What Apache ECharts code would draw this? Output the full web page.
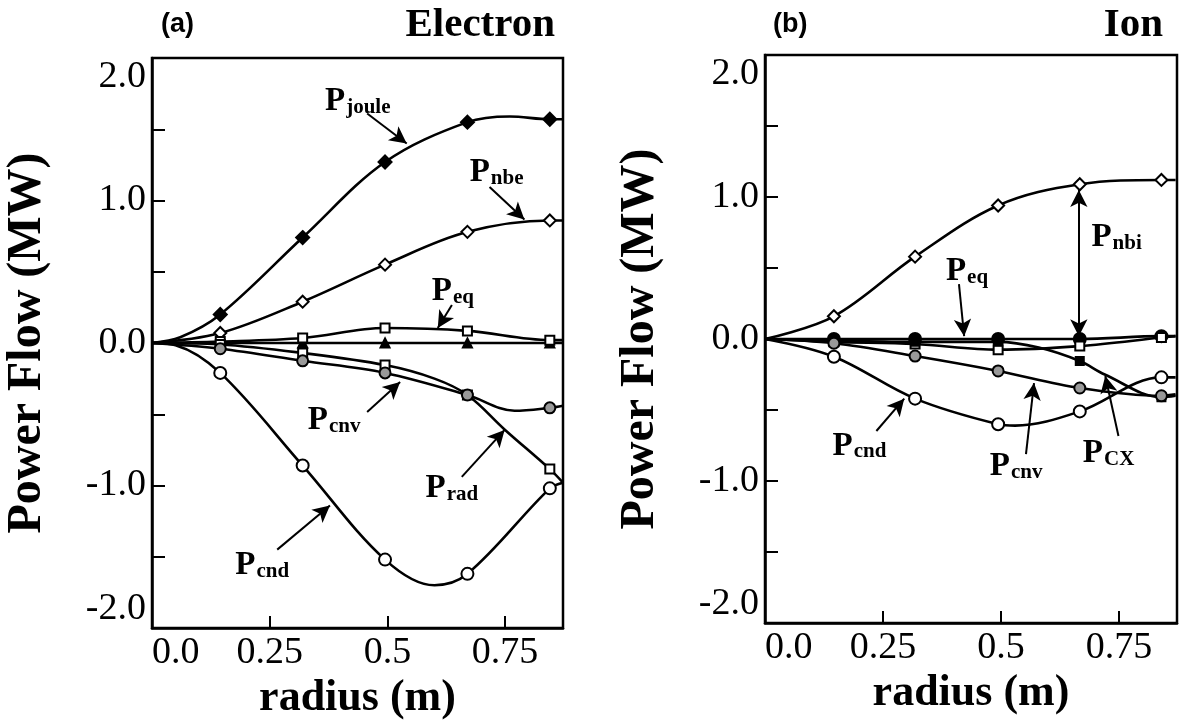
<!DOCTYPE html>
<html><head><meta charset="utf-8">
<script src="https://cdn.jsdelivr.net/npm/echarts@6/dist/echarts.min.js"></script>
<style>html,body{margin:0;padding:0;background:#fff}#c{width:1181px;height:728px}</style>
</head><body><div id="c"></div>
<script>
// ---------- DATA ----------
const yTicks = [-2, -1, 0, 1, 2];
const xTicks = [0, 0.25, 0.5, 0.75];
const xMax = 0.873;

// marker radii
const radiusE = [0.145, 0.32, 0.495, 0.67, 0.845];
const radiusI = [0.146, 0.318, 0.494, 0.667, 0.84];

// (a) Electron: marker values
const eJouleMk = [0.20, 0.74, 1.27, 1.55, 1.57];
const eNbeMk   = [0.07, 0.29, 0.55, 0.78, 0.86];
const eEqMk    = [0.01, 0.035, 0.105, 0.085, 0.02];
const eZeroMk  = [0.0, 0.0, 0.0, 0.0, 0.0];
const eRadMk   = [-0.01, -0.07, -0.155, -0.365, -0.885];
const eCnvMk   = [-0.04, -0.125, -0.21, -0.365, -0.455];
const eCndMk   = [-0.21, -0.86, -1.52, -1.62, -1.02];

// (a) Electron: curve traces [radius, MW]
const eJouleCurve = [[0,0],[0.06,0.04],[0.145,0.20],[0.32,0.74],[0.495,1.27],[0.67,1.55],[0.76,1.59],[0.845,1.57],[0.873,1.57]];
const eNbeCurve   = [[0,0],[0.145,0.07],[0.32,0.29],[0.495,0.55],[0.67,0.78],[0.845,0.86],[0.873,0.86]];
const eEqCurve    = [[0,0],[0.145,0.01],[0.32,0.035],[0.495,0.105],[0.67,0.085],[0.845,0.02],[0.873,0.02]];
const eZeroCurve  = [[0,0],[0.873,0]];
const eRadCurve   = [[0,0],[0.145,-0.01],[0.32,-0.07],[0.495,-0.155],[0.6,-0.25],[0.67,-0.365],[0.75,-0.61],[0.845,-0.885],[0.873,-0.98]];
const eCnvCurve   = [[0,0],[0.145,-0.04],[0.32,-0.125],[0.495,-0.21],[0.67,-0.365],[0.77,-0.475],[0.845,-0.455],[0.873,-0.44]];
const eCndCurve   = [[0,0],[0.05,-0.015],[0.145,-0.21],[0.32,-0.86],[0.495,-1.52],[0.6,-1.70],[0.67,-1.62],[0.845,-1.02],[0.873,-0.98]];

// (b) Ion: marker values
const iNbiMk  = [0.16, 0.58, 0.94, 1.09, 1.12];
const iZeroMk = [0.0, 0.0, 0.0, 0.0, 0.02];
const iEqMk   = [-0.02, -0.035, -0.075, -0.05, 0.01];
const iCxMk   = [-0.01, -0.02, -0.02, -0.155, -0.41];
const iCnvMk  = [-0.03, -0.12, -0.225, -0.345, -0.40];
const iCndMk  = [-0.125, -0.42, -0.60, -0.51, -0.27];

// (b) Ion: curve traces
const iNbiCurve  = [[0,0],[0.146,0.16],[0.318,0.58],[0.494,0.94],[0.667,1.09],[0.84,1.12],[0.87,1.12]];
const iZeroCurve = [[0,0],[0.667,0.0],[0.84,0.02],[0.87,0.02]];
const iEqCurve   = [[0,0],[0.146,-0.02],[0.318,-0.035],[0.494,-0.075],[0.667,-0.05],[0.84,0.01],[0.87,0.02]];
const iCxCurve   = [[0,0],[0.146,-0.01],[0.318,-0.02],[0.494,-0.02],[0.58,-0.06],[0.667,-0.155],[0.72,-0.25],[0.84,-0.41],[0.87,-0.40]];
const iCnvCurve  = [[0,0],[0.146,-0.03],[0.318,-0.12],[0.494,-0.225],[0.667,-0.345],[0.84,-0.40],[0.87,-0.39]];
const iCndCurve  = [[0,0],[0.146,-0.125],[0.318,-0.42],[0.494,-0.60],[0.53,-0.61],[0.667,-0.51],[0.84,-0.27],[0.87,-0.27]];

// annotation labels: subscript text and position [radius, MW]
const eLabelSubs = ['joule', 'nbe', 'eq', 'cnv', 'rad', 'cnd'];
const eLabelPos  = [[0.437,1.70],[0.732,1.20],[0.639,0.365],[0.387,-0.54],[0.637,-1.02],[0.234,-1.56]];
const eArrows = [
  [[0.457,1.61],[0.541,1.40]],
  [[0.717,1.095],[0.791,0.867]],
  [[0.637,0.267],[0.607,0.105]],
  [[0.457,-0.484],[0.527,-0.274]],
  [[0.658,-0.94],[0.749,-0.61]],
  [[0.266,-1.45],[0.378,-1.14]]
];
const iLabelSubs = ['nbi', 'eq', 'cnd', 'cnv', 'CX'];
const iLabelPos  = [[0.745,0.72],[0.428,0.48],[0.20,-0.75],[0.532,-0.894],[0.728,-0.80]];
const iArrows = [
  [[0.411,0.387],[0.422,0.02]],
  [[0.236,-0.648],[0.295,-0.42]],
  [[0.553,-0.81],[0.57,-0.31]],
  [[0.749,-0.683],[0.721,-0.26]]
];
const iDoubleArrow = [[0.665,1.05],[0.665,0.02]];

// ---------- STYLE / BUILD ----------
const SERIF = '"Liberation Serif","DejaVu Serif",serif';
const SANS = '"Liberation Sans",Arial,sans-serif';
const mk = {
  fDia:  {symbol:'diamond', size:13, fill:'#000'},
  oDia:  {symbol:'diamond', size:12, fill:'#fff'},
  oRect: {symbol:'rect', size:9, fill:'#fff'},
  fTri:  {symbol:'triangle', size:9, fill:'#000'},
  fRect: {symbol:'rect', size:8, fill:'#000'},
  gCirc: {symbol:'circle', size:11, fill:'#999'},
  oCirc: {symbol:'circle', size:12, fill:'#fff'},
  fCirc: {symbol:'circle', size:12, fill:'#000'}
};

const series = [];
function addCurve(gi, curve, xs, ys, m) {
  series.push({
    type:'line', xAxisIndex:gi, yAxisIndex:gi, data:curve, smooth:0.35,
    symbol:'none', silent:true, lineStyle:{color:'#000', width:2.6}, z:2
  });
  series.push({
    type:'scatter', xAxisIndex:gi, yAxisIndex:gi, data:xs.map((x,i)=>[x,ys[i]]),
    symbol:m.symbol, symbolSize:m.size, silent:true,
    itemStyle:{color:m.fill, borderColor:'#000', borderWidth:2, opacity:1}, z:4
  });
}
addCurve(0, eZeroCurve, radiusE, eZeroMk, mk.fTri);
addCurve(0, eJouleCurve, radiusE, eJouleMk, mk.fDia);
addCurve(0, eNbeCurve, radiusE, eNbeMk, mk.oDia);
addCurve(0, eEqCurve, radiusE, eEqMk, mk.oRect);
addCurve(0, eRadCurve, radiusE, eRadMk, mk.oRect);
addCurve(0, eCnvCurve, radiusE, eCnvMk, mk.gCirc);
addCurve(0, eCndCurve, radiusE, eCndMk, mk.oCirc);

addCurve(1, iZeroCurve, radiusI, iZeroMk, mk.fCirc);
addCurve(1, iNbiCurve, radiusI, iNbiMk, mk.oDia);
addCurve(1, iEqCurve, radiusI, iEqMk, mk.oRect);
addCurve(1, iCxCurve, radiusI, iCxMk, mk.fRect);
addCurve(1, iCnvCurve, radiusI, iCnvMk, mk.gCirc);
addCurve(1, iCndCurve, radiusI, iCndMk, mk.oCirc);

const rich = {
  p:{fontFamily:SERIF, fontWeight:'bold', fontSize:33, color:'#000', verticalAlign:'bottom', lineHeight:34, textBorderWidth:0},
  s:{fontFamily:SERIF, fontWeight:'bold', fontSize:21, color:'#000', verticalAlign:'bottom', lineHeight:30, padding:[0,0,0,1], textBorderWidth:0}
};
function arrowItems(list) {
  return list.map(a => [{coord:a[0], symbol:'none'}, {coord:a[1], symbol:'arrow'}]);
}
function addAnnotations(gi, subs, pos, arrows, extra) {
  const data = arrowItems(arrows);
  if (extra) data.push([{coord:extra[0], symbol:'arrow'}, {coord:extra[1], symbol:'arrow'}]);
  series.push({
    type:'scatter', xAxisIndex:gi, yAxisIndex:gi, symbolSize:0, silent:true, z:6,
    itemStyle:{color:'#000', opacity:1},
    data: pos.map((p,i)=>({value:p, sub:subs[i]})),
    label:{show:true, position:'inside', color:'#000', opacity:1, textBorderWidth:0, formatter:p=>'{p|P}{s|'+subs[p.dataIndex]+'}', rich:rich},
    markLine:{silent:true, animation:false, symbolSize:[13,17], label:{show:false},
      lineStyle:{color:'#000', width:2, type:'solid', opacity:1}, emphasis:{disabled:true}, data:data}
  });
}
addAnnotations(0, eLabelSubs, eLabelPos, eArrows);
addAnnotations(1, iLabelSubs, iLabelPos, iArrows, iDoubleArrow);

function xAxis(gi) {
  return {type:'value', gridIndex:gi, min:0, max:xMax, interval:0.25,
    axisLine:{show:true, onZero:false, lineStyle:{color:'#000', width:2.5}},
    axisTick:{show:true, inside:true, length:12, lineStyle:{color:'#000', width:2}},
    splitLine:{show:false},
    axisLabel:{color:'#000', fontFamily:SERIF, fontSize:38, margin:6, alignMinLabel:'left', showMaxLabel:false,
      formatter:v=>{ if (Math.abs(v*4-Math.round(v*4))>1e-6) return ''; return v===0?'0.0':String(v);} },
    name:'radius (m)', nameLocation:'middle', nameGap:43,
    nameTextStyle:{color:'#000', fontFamily:SERIF, fontWeight:'bold', fontSize:44}
  };
}
function yAxis(gi) {
  return {type:'value', gridIndex:gi, min:-2, max:2, interval:0.5,
    axisLine:{show:true, onZero:false, lineStyle:{color:'#000', width:2.5}},
    axisTick:{show:true, inside:true, length:13, lineStyle:{color:'#000', width:2}},
    splitLine:{show:false},
    axisLabel:{color:'#000', fontFamily:SERIF, fontSize:38, margin:6, verticalAlignMinLabel:'bottom', verticalAlignMaxLabel:'top',
      formatter:v=> yTicks.indexOf(v)>=0 ? v.toFixed(1) : ''},
    name:'Power Flow (MW)', nameLocation:'middle', nameGap:100, nameRotate:90,
    nameTextStyle:{color:'#000', fontFamily:SERIF, fontWeight:'bold', fontSize:48}
  };
}

const chart = echarts.init(document.getElementById('c'), null, {renderer:'canvas'});
chart.setOption({
  backgroundColor:'#fff',
  animation:false,
  title:[
    {text:'(a)', left:156, top:6, textStyle:{fontFamily:SANS, fontWeight:'bold', fontSize:27, color:'#000'}},
    {text:'Electron', right:621, top:0, textStyle:{fontFamily:SERIF, fontWeight:'bold', fontSize:41, color:'#000'}},
    {text:'(b)', left:768, top:6, textStyle:{fontFamily:SANS, fontWeight:'bold', fontSize:27, color:'#000'}},
    {text:'Ion', right:13, top:0, textStyle:{fontFamily:SERIF, fontWeight:'bold', fontSize:41, color:'#000'}}
  ],
  grid:[
    {left:152, top:58, width:411, height:570, show:true, borderColor:'#000', borderWidth:2.5, backgroundColor:'transparent'},
    {left:765, top:55, width:412, height:568, show:true, borderColor:'#000', borderWidth:2.5, backgroundColor:'transparent'}
  ],
  xAxis:[xAxis(0), xAxis(1)],
  yAxis:[yAxis(0), yAxis(1)],
  series:series
});
</script></body></html>
